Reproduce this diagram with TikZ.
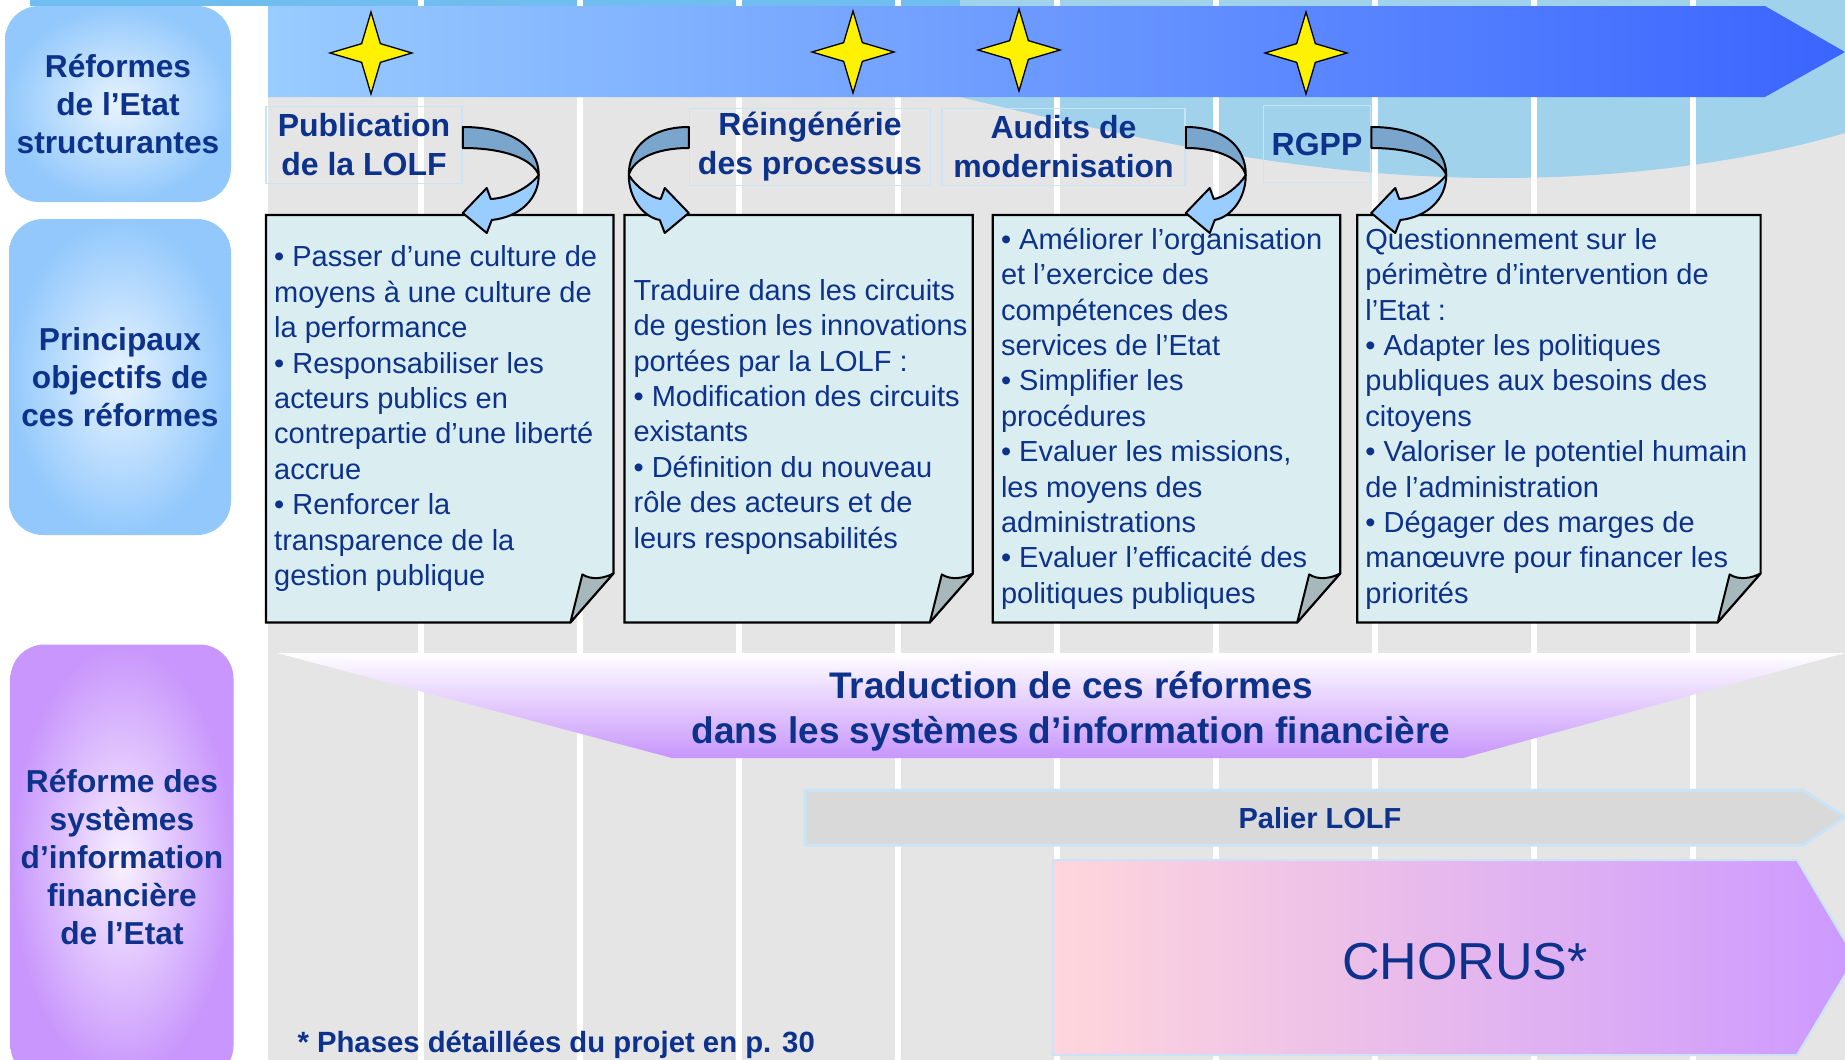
\documentclass[tikz,border=0pt]{standalone}
\usepackage{fontspec}
\setmainfont{Liberation Sans}
\usepackage{tikz}
\usetikzlibrary{calc,positioning,shapes.geometric}

\definecolor{navy}{RGB}{12,50,140}
\definecolor{skyfill}{RGB}{146,200,252}
\definecolor{skyglow}{RGB}{232,244,255}
\definecolor{lilac}{RGB}{200,150,252}
\definecolor{lilacglow}{RGB}{248,240,255}
\definecolor{notefill}{RGB}{218,237,241}
\definecolor{foldgray}{RGB}{166,184,188}
\definecolor{gridgray}{RGB}{229,229,229}
\definecolor{swooshblue}{RGB}{160,210,236}
\definecolor{skytop}{RGB}{112,190,240}
\definecolor{backband}{RGB}{122,166,206}
\definecolor{frontband}{RGB}{153,204,255}
\definecolor{rimblue}{RGB}{200,228,246}
\definecolor{barleft}{RGB}{153,204,255}
\definecolor{barright}{RGB}{58,100,255}
\definecolor{palierfill}{RGB}{217,217,217}
\definecolor{pinkish}{RGB}{255,214,220}
\definecolor{chorusend}{RGB}{204,153,255}

\begin{document}
\begin{tikzpicture}[x=1pt, y=-1pt]
	\tikzstyle{sidebox}=[rounded corners=34pt, shading=radial, text=navy, align=center, font=\fontsize{31.7}{38}\selectfont\bfseries]
	\tikzstyle{reform}=[draw=rimblue, line width=1.5pt, text=navy, align=center, inner sep=2pt, minimum height=77pt, font=\fontsize{32}{39}\selectfont\bfseries]
	\tikzstyle{star4}=[star, star points=4, star point ratio=3.1, minimum size=82pt, inner sep=0pt, fill=yellow, draw=black, line width=1.3pt]
	\tikzstyle{noteshape}=[minimum height=407pt, inner sep=0pt, anchor=north west]
	\tikzstyle{notebox}=[fill=notefill, draw=black, line width=2.2pt]
	\tikzstyle{flap}=[fill=foldgray, draw=black, line width=2pt, line join=round]
	\tikzstyle{notetext}=[anchor=west, align=left, text=navy, inner sep=0pt, font=\fontsize{29}{35.4}\selectfont]
	\tikzstyle{twistback}=[fill=backband, draw=black, line width=2pt, line join=round]
	\tikzstyle{twistfront}=[fill=frontband, draw=black, line width=2pt, line join=round]

	\useasboundingbox (0,0) rectangle (1845,1060);
	\clip (0,0) rectangle (1845,1060);

	% backdrop
	\fill[white] (0,0) rectangle (1845,1060);
	\fill[gridgray] (268,0) rectangle (1845,1060);
	\fill[skytop] (30,0) rectangle (1845,6);
	\fill[swooshblue] (960,0) -- (1845,0) -- (1845,133) .. controls (1760,158) and (1640,178) .. (1500,178) .. controls (1330,178) and (1180,150) .. (960,97) -- cycle;
	\foreach \x in {418,577,...,1690}
		\fill[white] (\x,0) rectangle +(6,1060);

	% timeline
	\shade[left color=barleft, right color=barright] (268,6) -- (1765,6) -- (1845,52) -- (1765,97) -- (268,97) -- cycle;
	\node[star4] (s1) at (371,53) {};
	\node[star4] (s2) at (853,52) {};
	\node[star4] (s3) at (1019,50) {};
	\node[star4] (s4) at (1306,53) {};

	% left column
	\node[sidebox, inner color=skyglow, outer color=skyfill, minimum width=226pt, minimum height=196pt] (col1) at (118,104) {Réformes\\de l’Etat\\structurantes};
	\node[sidebox, inner color=skyglow, outer color=skyfill, minimum width=222pt, minimum height=316pt] (col2) at (120,377) {Principaux\\objectifs de\\ces réformes};
	\node[sidebox, inner color=lilacglow, outer color=lilac, minimum width=223pt, minimum height=435pt] (col3) at (122,862) {};
	\node[text=navy, align=center, font=\fontsize{31.7}{38}\selectfont\bfseries] (col3txt) at (122,857) {Réforme des\\systèmes\\d’information\\financière\\de l’Etat};

	% reforms
	\node[reform, minimum width=196pt] (pub) at (364,145) {Publication\\de la LOLF};
	\node[reform, minimum width=241pt] (reing) at (810,147) {Réingénérie\\des processus};
	\node[reform, minimum width=243pt, right=10pt of reing] (audit) {Audits de\\modernisation};
	\node[reform, minimum width=107pt] (rgpp) at (1317,144) {RGPP};

	% objectives
	\node[noteshape, minimum width=347pt] (na) at (266,215) {};
	\node[noteshape, minimum width=348pt, right=11pt of na] (nb) {};
	\node[noteshape, minimum width=347pt, right=20pt of nb] (nc) {};
	\node[noteshape, minimum width=403pt, right=17pt of nc] (nd) {};
	\foreach \n in {na,nb,nc,nd}{
		\filldraw[notebox] (\n.north west) -- (\n.north east) -- ($(\n.south east)+(0,-49)$) -- ($(\n.south east)+(-43,0)$) -- (\n.south west) -- cycle;
		\filldraw[flap] ($(\n.south east)+(-43,0)$) -- ($(\n.south east)+(-31,-48)$) .. controls ($(\n.south east)+(-22,-42)$) and ($(\n.south east)+(-9,-44)$) .. ($(\n.south east)+(0,-49)$) -- cycle;
	}

	\node[notetext] (ta) at ([xshift=8pt]na.west) {• Passer d’une culture de\\moyens à une culture de\\la performance\\• Responsabiliser les\\acteurs publics en\\contrepartie d’une liberté\\accrue\\• Renforcer la\\transparence de la\\gestion publique};
	\node[notetext] (tb) at ([xshift=9pt,yshift=2pt]nb.west) {Traduire dans les circuits\\de gestion les innovations\\portées par la LOLF :\\• Modification des circuits\\existants\\• Définition du nouveau\\rôle des acteurs et de\\leurs responsabilités};
	\node[notetext] (tc) at ([xshift=8pt]nc.west) {• Améliorer l’organisation\\et l’exercice des\\compétences des\\services de l’Etat\\• Simplifier les\\procédures\\• Evaluer les missions,\\les moyens des\\administrations\\• Evaluer l’efficacité des\\politiques publiques};
	\node[notetext] (td) at ([xshift=8pt]nd.west) {Questionnement sur le\\périmètre d’intervention de\\l’Etat :\\• Adapter les politiques\\publiques aux besoins des\\citoyens\\• Valoriser le potentiel humain\\de l’administration\\• Dégager des marges de\\manœuvre pour financer les\\priorités};

	% curved arrows from each reform to its box
	\foreach \n/\a/\d/\w in {pub/east/1/76, reing/west/-1/60, audit/east/1/60, rgpp/east/1/75}{
		\begin{scope}[shift={($(\n.\a |- pub.east)+(0,-18)$)}, xscale=\d]
			\filldraw[twistback] (0,0) .. controls (0.6*\w,0) and (\w,18) .. (\w,48) .. controls (0.92*\w,32) and (0.55*\w,21) .. (0,21) -- cycle;
			\filldraw[twistfront] (\w,48) .. controls (0.88*\w,60) and (0.62*\w,71) .. (28,72) -- (24,61) -- (0,86) -- (24,106) -- (29,93) .. controls (0.75*\w,90) and (\w,72) .. (\w,48) -- cycle;
		\end{scope}
	}

	% information systems
	\shade[top color=white, bottom color=lilac] (277,653) -- (1845,653) -- (1463,758) -- (672,758) -- cycle;
	\node[text=navy, align=center, font=\fontsize{37}{44.7}\selectfont\bfseries] (trad) at (1071,711) {Traduction de ces réformes\\dans les systèmes d’information financière};

	\filldraw[fill=palierfill, draw=rimblue, line width=3pt] (805,790) -- (1803,790) -- (1845,817) -- (1803,845) -- (805,845) -- cycle;
	\node[text=navy, font=\fontsize{29}{35}\selectfont\bfseries] (palier) at (1320,818) {Palier LOLF};

	\shadedraw[left color=pinkish, right color=chorusend, draw=rimblue, line width=2pt] (1053,860) -- (1797,860) -- (1855,958) -- (1797,1055) -- (1053,1055) -- cycle;
	\node[text=navy, font=\fontsize{52}{60}\selectfont] (chorus) at (1465,962) {CHORUS*};

	\node[anchor=west, text=navy, font=\fontsize{29.3}{35}\selectfont\bfseries] (phases) at (294,1045) {* Phases détaillées du projet en p. 30};
\end{tikzpicture}
\end{document}
